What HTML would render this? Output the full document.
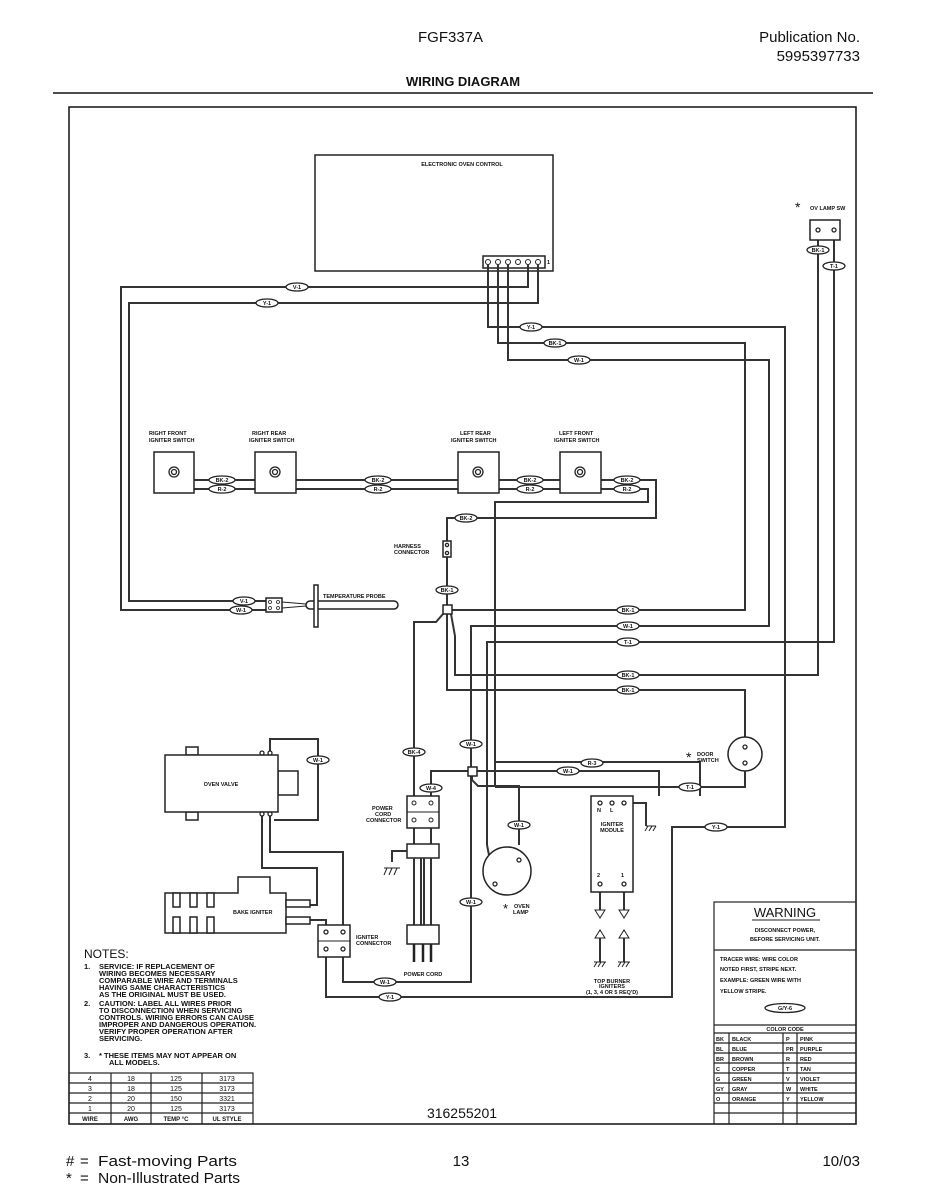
<!DOCTYPE html>
<html><head><meta charset="utf-8"><style>
body{margin:0;background:#fff}
svg{display:block}
.t{font-family:"Liberation Sans",sans-serif;fill:#111}
.s{font-family:"Liberation Sans",sans-serif;font-size:5.5px;font-weight:bold;fill:#111}
.w{fill:none;stroke:#333;stroke-width:2}
.b{fill:#fff;stroke:#222;stroke-width:1.5}
.o{fill:#fff;stroke:#222;stroke-width:1.3}
</style></head><body>
<svg width="927" height="1200" viewBox="0 0 927 1200" xmlns="http://www.w3.org/2000/svg">
<text class="t" x="418" y="42" font-size="15">FGF337A</text>
<text class="t" x="860" y="42" font-size="15" text-anchor="end">Publication No.</text>
<text class="t" x="860" y="61" font-size="15" text-anchor="end">5995397733</text>
<text class="t" x="463" y="86" font-size="13" font-weight="bold" text-anchor="middle">WIRING DIAGRAM</text>
<line x1="53" y1="93" x2="873" y2="93" stroke="#111" stroke-width="1.5"/>
<rect x="69" y="107" width="787" height="1017" fill="none" stroke="#111" stroke-width="1.5"/>

<!-- EOC -->
<rect x="315" y="155" width="238" height="116" class="b"/>
<text class="s" x="462" y="166" text-anchor="middle">ELECTRONIC OVEN CONTROL</text>
<rect x="483" y="256" width="62" height="12" class="b"/>
<g fill="#fff" stroke="#222" stroke-width="1">
<circle cx="488" cy="262" r="2.5"/><circle cx="498" cy="262" r="2.5"/><circle cx="508" cy="262" r="2.5"/><circle cx="518" cy="262" r="2.5"/><circle cx="528" cy="262" r="2.5"/><circle cx="538" cy="262" r="2.5"/></g>
<text class="s" x="547" y="264">1</text>

<!-- wires -->
<g class="w">
<path d="M528 265V287H121V610H266"/>
<path d="M538 265V303H129V601H266"/>
<path d="M488 265V327H785V827H672V997H326V950"/>
<path d="M498 265V343H745V610H447"/>
<path d="M508 265V360H769V626H471V982H343V950"/>
<path d="M818 240V675H455V636"/>
<path d="M834 240V642H487V845"/>
<path d="M194 480H255M194 489H255M296 480H458M296 489H458M499 480H560M499 489H560"/>
<path d="M601 480H656V518H447V541M447 557V605"/>
<path d="M601 489H648V502H495V778"/>
<path d="M447 614V690H745V737"/>
<path d="M443 614L436 622H414V796"/>
<path d="M451 614L455 636"/>
<path d="M431 796V771H468"/>
<path d="M477 771H659V796"/>
<path d="M472 776V780L478 786H519V845"/>
<path d="M495 778V785"/>
<path d="M471 626V767"/>
<path d="M487 845L494 880"/>
<path d="M495 762H700V796"/>
<path d="M745 771V787H495"/>
<path d="M624 803H646V826"/>
<path d="M414 828V844M431 828V844"/>
<path d="M270 753V739H318V820H274"/>
<path d="M262 814V868H317V905H310"/>
<path d="M270 814V852H343V930"/>
<path d="M310 920H326V930"/>
<path d="M600 878V910M624 878V910M600 930V962M624 930V962"/>
</g>
<!-- power cord -->
<rect x="407" y="796" width="32" height="32" class="b"/><line x1="407" y1="812" x2="439" y2="812" stroke="#222"/>
<g fill="#fff" stroke="#222"><circle cx="414" cy="803" r="2"/><circle cx="431" cy="803" r="2"/><circle cx="414" cy="820" r="2"/><circle cx="431" cy="820" r="2"/></g>
<rect x="407" y="844" width="32" height="14" class="b"/>
<path d="M414 858V925M421 858V925M424 858V925M431 858V925M407 851H392V862" class="w" stroke-width="1.5"/>
<rect x="407" y="925" width="32" height="19" class="b"/>
<path d="M414 944V962M423 944V962M431 944V962" stroke="#222" stroke-width="2.5"/>
<text class="s" x="423" y="976" text-anchor="middle">POWER CORD</text>
<text class="s" x="372" y="810">POWER</text><text class="s" x="375" y="816">CORD</text><text class="s" x="366" y="822">CONNECTOR</text>
<path d="M384 868h16M387 868l-3 7M392 868l-3 7M397 868l-3 7" stroke="#222" fill="none"/>

<!-- junctions -->
<rect x="443" y="605" width="9" height="9" class="b"/>
<rect x="468" y="767" width="9" height="9" class="b"/>

<!-- igniter switches -->
<g>
<rect x="154" y="452" width="40" height="41" class="b"/><circle cx="174" cy="472" r="5" class="o"/><circle cx="174" cy="472" r="2.5" class="o"/>
<rect x="255" y="452" width="41" height="41" class="b"/><circle cx="275" cy="472" r="5" class="o"/><circle cx="275" cy="472" r="2.5" class="o"/>
<rect x="458" y="452" width="41" height="41" class="b"/><circle cx="478" cy="472" r="5" class="o"/><circle cx="478" cy="472" r="2.5" class="o"/>
<rect x="560" y="452" width="41" height="41" class="b"/><circle cx="580" cy="472" r="5" class="o"/><circle cx="580" cy="472" r="2.5" class="o"/>
</g>
<text class="s" x="149" y="435">RIGHT FRONT</text><text class="s" x="149" y="442">IGNITER SWITCH</text>
<text class="s" x="252" y="435">RIGHT REAR</text><text class="s" x="249" y="442">IGNITER SWITCH</text>
<text class="s" x="460" y="435">LEFT REAR</text><text class="s" x="451" y="442">IGNITER SWITCH</text>
<text class="s" x="559" y="435">LEFT FRONT</text><text class="s" x="554" y="442">IGNITER SWITCH</text>

<!-- harness connector -->
<rect x="443" y="541" width="8" height="16" class="b"/>
<circle cx="447" cy="545" r="1.6" class="o"/><circle cx="447" cy="553" r="1.6" class="o"/>
<text class="s" x="394" y="548">HARNESS</text><text class="s" x="394" y="554">CONNECTOR</text>

<!-- temp probe -->
<rect x="266" y="598" width="16" height="14" class="b"/>
<g fill="#fff" stroke="#222" stroke-width=".8"><circle cx="270" cy="602" r="1.5"/><circle cx="278" cy="602" r="1.5"/><circle cx="270" cy="608" r="1.5"/><circle cx="278" cy="608" r="1.5"/></g>
<path d="M282 602L306 604M282 608L306 606" stroke="#222"/>
<rect x="306" y="601" width="92" height="8" rx="4" class="b"/>
<rect x="314" y="585" width="4" height="42" class="b"/>
<text class="s" x="323" y="598">TEMPERATURE PROBE</text>

<!-- oven lamp sw -->
<text class="t" x="795" y="212" font-size="14">*</text>
<text class="s" x="810" y="210">OV LAMP SW</text>
<rect x="810" y="220" width="30" height="20" class="b"/>
<circle cx="818" cy="230" r="2" class="o"/><circle cx="834" cy="230" r="2" class="o"/>

<!-- oven valve -->
<rect x="186" y="747" width="12" height="8" class="b"/><rect x="186" y="812" width="12" height="8" class="b"/>
<rect x="278" y="771" width="20" height="24" class="b"/>
<rect x="165" y="755" width="113" height="57" class="b"/>
<text class="s" x="221" y="786" text-anchor="middle">OVEN VALVE</text>
<g class="o"><circle cx="262" cy="753" r="2"/><circle cx="270" cy="753" r="2"/><circle cx="262" cy="814" r="2"/><circle cx="270" cy="814" r="2"/></g>

<!-- bake igniter -->
<path d="M165 893H238V877H270V893H286V933H165Z" class="b"/>
<g class="b"><rect x="173" y="893" width="7" height="14"/><rect x="190" y="893" width="7" height="14"/><rect x="207" y="893" width="7" height="14"/><rect x="173" y="917" width="7" height="16"/><rect x="190" y="917" width="7" height="16"/><rect x="207" y="917" width="7" height="16"/></g>
<rect x="286" y="900" width="24" height="7" class="b"/><rect x="286" y="917" width="24" height="7" class="b"/>
<text class="s" x="233" y="914">BAKE IGNITER</text>

<!-- igniter connector -->
<rect x="318" y="925" width="32" height="32" class="b"/><line x1="318" y1="941" x2="350" y2="941" stroke="#222"/>
<g class="o"><circle cx="326" cy="932" r="2"/><circle cx="343" cy="932" r="2"/><circle cx="326" cy="949" r="2"/><circle cx="343" cy="949" r="2"/></g>
<text class="s" x="356" y="939">IGNITER</text><text class="s" x="356" y="945">CONNECTOR</text>

<!-- oven lamp -->
<circle cx="507" cy="871" r="24" class="b"/>
<circle cx="495" cy="884" r="2" class="o"/><circle cx="519" cy="860" r="2" class="o"/>
<text class="t" x="503" y="913" font-size="13">*</text>
<text class="s" x="514" y="908">OVEN</text><text class="s" x="513" y="914">LAMP</text>

<!-- igniter module -->
<rect x="591" y="796" width="42" height="96" class="b"/>
<g class="o"><circle cx="600" cy="803" r="2"/><circle cx="612" cy="803" r="2"/><circle cx="624" cy="803" r="2"/><circle cx="600" cy="884" r="2"/><circle cx="624" cy="884" r="2"/></g>
<text class="s" x="597" y="812">N</text><text class="s" x="610" y="812">L</text>
<text class="s" x="612" y="826" text-anchor="middle">IGNITER</text><text class="s" x="612" y="832" text-anchor="middle">MODULE</text>
<text class="s" x="597" y="877">2</text><text class="s" x="621" y="877">1</text>
<g fill="#fff" stroke="#222"><path d="M595 910h10l-5 8z"/><path d="M619 910h10l-5 8z"/><path d="M595 938h10l-5-8z"/><path d="M619 938h10l-5-8z"/></g>
<path d="M594 962h12M597 962l-3 5M601 962l-3 5M605 962l-3 5M618 962h12M621 962l-3 5M625 962l-3 5M629 962l-3 5M646 826h10M648 826l-3 5M652 826l-3 5M656 826l-3 5" stroke="#222" fill="none"/>
<text class="s" x="612" y="983" text-anchor="middle">TOP BURNER</text><text class="s" x="612" y="988" text-anchor="middle">IGNITERS</text><text class="s" x="612" y="994" text-anchor="middle">(1, 3, 4 OR 5 REQ'D)</text>

<!-- door switch -->
<circle cx="745" cy="754" r="17" class="b"/>
<circle cx="745" cy="747" r="2" class="o"/><circle cx="745" cy="763" r="2" class="o"/>
<text class="t" x="686" y="762" font-size="14">*</text>
<text class="s" x="697" y="756">DOOR</text><text class="s" x="697" y="762">SWITCH</text>

<!-- wire labels -->
<g class="o">
<ellipse cx="297" cy="287" rx="11" ry="4"/><ellipse cx="267" cy="303" rx="11" ry="4"/>
<ellipse cx="531" cy="327" rx="11" ry="4"/><ellipse cx="555" cy="343" rx="11" ry="4"/><ellipse cx="579" cy="360" rx="11" ry="4"/>
<ellipse cx="818" cy="250" rx="11" ry="4"/><ellipse cx="834" cy="266" rx="11" ry="4"/>
<ellipse cx="222" cy="480" rx="13" ry="4"/><ellipse cx="222" cy="489" rx="13" ry="4"/>
<ellipse cx="378" cy="480" rx="13" ry="4"/><ellipse cx="378" cy="489" rx="13" ry="4"/>
<ellipse cx="530" cy="480" rx="13" ry="4"/><ellipse cx="530" cy="489" rx="13" ry="4"/>
<ellipse cx="627" cy="480" rx="13" ry="4"/><ellipse cx="627" cy="489" rx="13" ry="4"/>
<ellipse cx="466" cy="518" rx="11" ry="4"/><ellipse cx="447" cy="590" rx="11" ry="4"/>
<ellipse cx="244" cy="601" rx="11" ry="4"/><ellipse cx="241" cy="610" rx="11" ry="4"/>
<ellipse cx="628" cy="610" rx="11" ry="4"/><ellipse cx="628" cy="626" rx="11" ry="4"/><ellipse cx="628" cy="642" rx="11" ry="4"/>
<ellipse cx="628" cy="675" rx="11" ry="4"/><ellipse cx="628" cy="690" rx="11" ry="4"/>
<ellipse cx="414" cy="752" rx="11" ry="4"/><ellipse cx="471" cy="744" rx="11" ry="4"/><ellipse cx="431" cy="788" rx="11" ry="4"/>
<ellipse cx="568" cy="771" rx="11" ry="4"/><ellipse cx="592" cy="763" rx="11" ry="4"/><ellipse cx="690" cy="787" rx="11" ry="4"/>
<ellipse cx="519" cy="825" rx="11" ry="4"/><ellipse cx="471" cy="902" rx="11" ry="4"/><ellipse cx="716" cy="827" rx="11" ry="4"/>
<ellipse cx="385" cy="982" rx="11" ry="4"/><ellipse cx="390" cy="997" rx="11" ry="4"/><ellipse cx="318" cy="760" rx="11" ry="4"/>
</g>
<g class="s" font-size="5" text-anchor="middle">
<text x="297" y="289">V-1</text><text x="267" y="305">Y-1</text>
<text x="531" y="329">Y-1</text><text x="555" y="345">BK-1</text><text x="579" y="362">W-1</text>
<text x="818" y="252">BK-1</text><text x="834" y="268">T-1</text>
<text x="222" y="482">BK-2</text><text x="222" y="491">R-2</text><text x="378" y="482">BK-2</text><text x="378" y="491">R-2</text>
<text x="530" y="482">BK-2</text><text x="530" y="491">R-2</text><text x="627" y="482">BK-2</text><text x="627" y="491">R-2</text>
<text x="466" y="520">BK-2</text><text x="447" y="592">BK-1</text>
<text x="244" y="603">V-1</text><text x="241" y="612">W-1</text>
<text x="628" y="612">BK-1</text><text x="628" y="628">W-1</text><text x="628" y="644">T-1</text><text x="628" y="677">BK-1</text><text x="628" y="692">BK-1</text>
<text x="414" y="754">BK-4</text><text x="471" y="746">W-1</text><text x="431" y="790">W-4</text>
<text x="568" y="773">W-1</text><text x="592" y="765">R-3</text><text x="690" y="789">T-1</text>
<text x="519" y="827">W-1</text><text x="471" y="904">W-1</text><text x="716" y="829">Y-1</text>
<text x="385" y="984">W-1</text><text x="390" y="999">Y-1</text><text x="318" y="762">W-1</text>
</g>

<!-- notes -->
<g class="t" font-size="7.5" font-weight="bold">
<text x="84" y="958" font-size="12" font-weight="normal">NOTES:</text>
<text x="84" y="969">1.</text><text x="99" y="969">SERVICE:  IF REPLACEMENT OF</text>
<text x="99" y="976">WIRING BECOMES NECESSARY</text>
<text x="99" y="983">COMPARABLE WIRE AND TERMINALS</text>
<text x="99" y="990">HAVING SAME CHARACTERISTICS</text>
<text x="99" y="997">AS THE ORIGINAL MUST BE USED.</text>
<text x="84" y="1006">2.</text><text x="99" y="1006">CAUTION:  LABEL ALL WIRES PRIOR</text>
<text x="99" y="1013">TO DISCONNECTION WHEN SERVICING</text>
<text x="99" y="1020">CONTROLS.  WIRING ERRORS CAN CAUSE</text>
<text x="99" y="1027">IMPROPER AND DANGEROUS OPERATION.</text>
<text x="99" y="1034">VERIFY PROPER OPERATION AFTER</text>
<text x="99" y="1041">SERVICING.</text>
<text x="84" y="1058">3.</text><text x="99" y="1058">* THESE ITEMS MAY NOT APPEAR ON</text>
<text x="109" y="1065">ALL MODELS.</text>
</g>
<g fill="none" stroke="#222" stroke-width="1.2">
<rect x="69" y="1073" width="184" height="51"/>
<path d="M69 1083H253M69 1093H253M69 1103H253M69 1113H253M111 1073V1124M151 1073V1124M202 1073V1124"/>
</g>
<g class="t" font-size="7" text-anchor="middle">
<text x="90" y="1081">4</text><text x="131" y="1081">18</text><text x="176" y="1081">125</text><text x="227" y="1081">3173</text>
<text x="90" y="1091">3</text><text x="131" y="1091">18</text><text x="176" y="1091">125</text><text x="227" y="1091">3173</text>
<text x="90" y="1101">2</text><text x="131" y="1101">20</text><text x="176" y="1101">150</text><text x="227" y="1101">3321</text>
<text x="90" y="1111">1</text><text x="131" y="1111">20</text><text x="176" y="1111">125</text><text x="227" y="1111">3173</text>
<text x="90" y="1121" font-weight="bold" font-size="6">WIRE</text><text x="131" y="1121" font-weight="bold" font-size="6">AWG</text><text x="176" y="1121" font-weight="bold" font-size="6">TEMP °C</text><text x="227" y="1121" font-weight="bold" font-size="6">UL STYLE</text>
</g>

<!-- warning box -->
<g fill="none" stroke="#222" stroke-width="1.2">
<rect x="714" y="902" width="142" height="222"/>
<path d="M714 950H856M714 1025H856M714 1033H856M714 1043H856M714 1053H856M714 1063H856M714 1073H856M714 1083H856M714 1093H856M714 1103H856M714 1113H856M729 1033V1124M783 1033V1124M797 1033V1124"/>
<path d="M752 920H820" stroke-width="1"/>
</g>
<text class="t" x="785" y="917" font-size="13" text-anchor="middle">WARNING</text>
<text class="s" x="785" y="932" text-anchor="middle" font-size="6.5">DISCONNECT POWER,</text>
<text class="s" x="785" y="941" text-anchor="middle" font-size="6.5">BEFORE SERVICING UNIT.</text>
<g class="s" font-size="6.5">
<text x="720" y="961">TRACER WIRE:   WIRE COLOR</text>
<text x="720" y="971">NOTED FIRST, STRIPE NEXT.</text>
<text x="720" y="982">EXAMPLE:   GREEN WIRE WITH</text>
<text x="720" y="993">YELLOW STRIPE.</text>
</g>
<ellipse cx="785" cy="1008" rx="20" ry="4.5" class="o"/>
<text class="s" x="785" y="1010" text-anchor="middle">G/Y-6</text>
<text class="s" x="785" y="1031" text-anchor="middle" font-size="6.5">COLOR CODE</text>
<g class="s" font-size="6">
<text x="716" y="1041">BK</text><text x="732" y="1041">BLACK</text><text x="786" y="1041">P</text><text x="800" y="1041">PINK</text>
<text x="716" y="1051">BL</text><text x="732" y="1051">BLUE</text><text x="786" y="1051">PR</text><text x="800" y="1051">PURPLE</text>
<text x="716" y="1061">BR</text><text x="732" y="1061">BROWN</text><text x="786" y="1061">R</text><text x="800" y="1061">RED</text>
<text x="716" y="1071">C</text><text x="732" y="1071">COPPER</text><text x="786" y="1071">T</text><text x="800" y="1071">TAN</text>
<text x="716" y="1081">G</text><text x="732" y="1081">GREEN</text><text x="786" y="1081">V</text><text x="800" y="1081">VIOLET</text>
<text x="716" y="1091">GY</text><text x="732" y="1091">GRAY</text><text x="786" y="1091">W</text><text x="800" y="1091">WHITE</text>
<text x="716" y="1101">O</text><text x="732" y="1101">ORANGE</text><text x="786" y="1101">Y</text><text x="800" y="1101">YELLOW</text>
</g>

<text class="t" x="462" y="1118" font-size="14" text-anchor="middle">316255201</text>

<text class="t" x="66" y="1166" font-size="15">#</text>
<text class="t" x="80" y="1166" font-size="15">=</text>
<text class="t" x="98" y="1166" font-size="15" textLength="139" lengthAdjust="spacingAndGlyphs">Fast-moving Parts</text>
<text class="t" x="66" y="1183" font-size="15">*</text>
<text class="t" x="80" y="1183" font-size="15">=</text>
<text class="t" x="98" y="1183" font-size="15" textLength="142" lengthAdjust="spacingAndGlyphs">Non-Illustrated Parts</text>
<text class="t" x="461" y="1166" font-size="15" text-anchor="middle">13</text>
<text class="t" x="860" y="1166" font-size="15" text-anchor="end">10/03</text>
</svg>
</body></html>
